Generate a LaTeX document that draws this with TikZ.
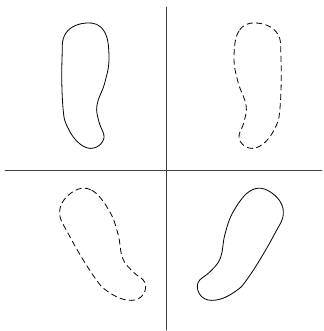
\documentclass[tikz,border=0pt]{standalone}
\usepackage{tikz}

\newcommand{\blobpath}{plot[smooth cycle,tension=0.7] coordinates {(1,62) (18,54) (23,28) (19,3) (11,-20) (13,-37) (18,-53) (8,-63) (-6,-59) (-18,-43) (-23,-23) (-24,25) (-20,52)}}

\begin{document}
\begin{tikzpicture}[x=1pt,y=1pt,line cap=round,line join=round]
\useasboundingbox (0,0) rectangle (323,331);
\tikzset{axis/.style={line width=0.9pt,draw=black!75},
  blob/.style={line width=0.8pt},
  dashblob/.style={line width=0.8pt,dash pattern=on 6pt off 3.5pt,line cap=butt}}
\coordinate (top) at (166,324);
\coordinate (bot) at (166,1);
\coordinate (lft) at (5,161);
\coordinate (rgt) at (322,161);
\draw[axis] (top) -- (bot);
\draw[axis] (lft) -- (rgt);
% upper pair
\draw[blob,shift={(86,246)}] \blobpath;
\draw[dashblob,shift={(257,246)},xscale=-1] \blobpath;
% lower pair
\draw[dashblob,shift={(103,85)},rotate=30] \blobpath;
\draw[blob,shift={(240,85)},xscale=-1,rotate=30] \blobpath;
\end{tikzpicture}
\end{document}
